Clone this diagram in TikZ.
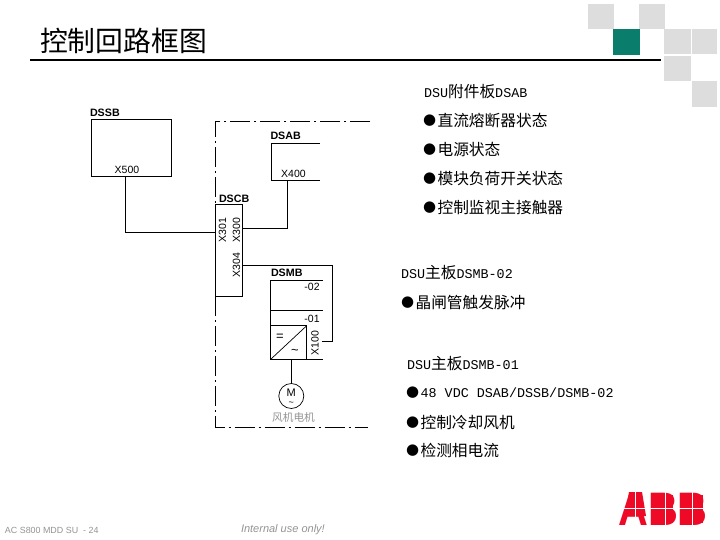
\documentclass[tikz,border=0pt]{standalone}
\usepackage{fontspec}
\setmainfont{Liberation Sans}
\newfontfamily\cjk{Noto Sans CJK SC}
\newfontfamily\lat{Liberation Mono}
\newfontfamily\dejavu{DejaVu Sans}
\usetikzlibrary{positioning,calc}
\definecolor{tilegray}{HTML}{DDDDDD}
\definecolor{tilegreen}{HTML}{0B7D6C}
\definecolor{abbred}{HTML}{EE0A27}
\newcommand{\bul}[1][1.6pt]{\raisebox{#1}{\dejavu\fontsize{15}{15}\selectfont ●}\hspace{1.5pt}}
\newcommand{\mn}[1]{{\lat\fontsize{13.4}{16}\selectfont #1}}

\begin{document}
\begin{tikzpicture}[
    x=1pt, y=-1pt,
    every node/.style={inner sep=0pt, outer sep=0pt},
    tile/.style={fill=tilegray},
    wire/.style={line width=0.7pt, black},
    frameline/.style={line width=0.7pt, black, dash pattern=on 20pt off 4pt on 2pt off 4pt},
    board/.style={font=\fontsize{10.7}{12}\selectfont\bfseries, anchor=west},
    conn/.style={font=\fontsize{10.5}{12}\selectfont},
    body/.style={font=\cjk\fontsize{15.7}{18}\selectfont, anchor=west},
    head/.style={font=\cjk\fontsize{15.7}{18}\selectfont, anchor=west},
    foot/.style={font=\fontsize{8.9}{12}\selectfont, text=gray!85, anchor=west},
    slit/.style={white, line width=1pt}
]
    \useasboundingbox (0,0) rectangle (720,540);

    % Kopf
    \node[font=\cjk\fontsize{27.8}{30}\selectfont, anchor=west] (title) at (40,41) {控制回路框图};
    \coordinate (ruleL) at (30,60);
    \coordinate (ruleR) at (661,60);
    \draw[line width=1.6pt] (ruleL) -- (ruleR);

    % Kacheln
    \fill[tile] (588,4) rectangle (613.7,29.3);
    \fill[tile] (639,4) rectangle (664.7,29.3);
    \fill[tilegreen] (613,29) rectangle (640,55);
    \fill[tile] (664.3,29) rectangle (690.7,54.3);
    \fill[tile] (692,29) rectangle (716.7,54.3);
    \fill[tile] (664.3,56) rectangle (690.7,80.7);
    \fill[tile] (692,81) rectangle (716.7,106.7);

    % Rahmen
    \coordinate (frameTR) at (370,121.7);
    \coordinate (frameBR) at (368,427);
    \draw[frameline] (frameTR) -- (215.7,121.7) -- (215.7,204.3);
    \draw[frameline] (215.7,296) -- (215.7,427) -- (frameBR);

    % Platinen
    \node[draw, wire, minimum width=80pt, minimum height=57pt] (dssb) at (131.3,147.8) {};
    \node[board] (dssbl) at (90,112.5) {DSSB};
    \node[conn] (x500) at (127,170) {X500};

    \node[board] (dsabl) at (270.5,136) {DSAB};
    \node[conn] (x400) at (293.5,174) {X400};
    \coordinate (dsabA) at (320,143.3);
    \coordinate (dsabB) at (320,180.3);
    \draw[wire] (dsabA) -- (271.3,143.3) -- (271.3,180.3) -- (dsabB);

    \node[draw, wire, minimum width=27pt, minimum height=91.7pt] (dscb) at (229.2,250.15) {};
    \node[board] (dscbl) at (219,199) {DSCB};
    \node[conn, rotate=90] (x301) at (222.5,230) {X301};
    \node[conn, rotate=90] (x300) at (236.5,230) {X300};
    \node[conn, rotate=90] (x304) at (236.5,265) {X304};

    \node[board] (dsmbl) at (271,273) {DSMB};
    \node[conn] (m02) at (312,287) {-02};
    \node[conn] (m01) at (312,319) {-01};
    \node[conn, rotate=90] (x100) at (315,343) {X100};
    \coordinate (dsmbA) at (323,280.7);
    \coordinate (dsmbB) at (323,310.3);
    \coordinate (dsmbC) at (323,359.3);
    \draw[wire] (dsmbA) -- (270.7,280.7) -- (270.7,359.3) -- (dsmbC);
    \draw[wire] (270.7,310.3) -- (dsmbB);

    % Umrichter
    \node[draw, wire, minimum width=36pt, minimum height=33.6pt] (conv) at (288.7,342.5) {};
    \draw[wire] (conv.south west) -- (conv.north east);
    \node[conn, font=\fontsize{13}{13}\selectfont] (eq) at (280,337.5) {=};
    \node[conn, font=\fontsize{13}{13}\selectfont] (ac) at (295,352) {\textasciitilde};

    % Motor
    \node[draw, wire, circle, minimum size=25pt] (motor) at (291.3,396) {};
    \node[conn, font=\fontsize{11}{11}\selectfont] (mm) at (291.3,393) {M};
    \node[conn, font=\fontsize{9}{9}\selectfont] (mt) at (291.3,403.5) {\textasciitilde};
    \node[font=\cjk\fontsize{10.7}{12}\selectfont, text=gray!85] (fan) at (293.5,417) {风机电机};

    % Verbindungen
    \coordinate (p500) at (125.3,176.3);
    \coordinate (p301) at (215.7,232.3);
    \coordinate (p400) at (287.7,180.3);
    \coordinate (p300) at (242.7,228);
    \coordinate (p304) at (242.7,265);
    \coordinate (p100) at (322,341);
    \draw[wire] (p500) |- (p301);
    \draw[wire] (p400) |- (p300);
    \draw[wire] (p304) -- (332.7,265) -- (332.7,341) -- (p100);
    \draw[wire] (conv.south -| motor.north) -- (motor.north);

    % Text rechts
    \node[head] (h1) at (424,92) {\mn{DSU}附件板\mn{DSAB}};
    \node[body] (a1) at (423,120.5) {\bul 直流熔断器状态};
    \node[body] (a2) at (423,149.5) {\bul 电源状态};
    \node[body] (a3) at (423,178.5) {\bul 模块负荷开关状态};
    \node[body] (a4) at (423,207.5) {\bul 控制监视主接触器};

    \node[head] (h2) at (401,273) {\mn{DSU}主板\mn{DSMB-02}};
    \node[body] (b1) at (401,302.5) {\bul 晶闸管触发脉冲};

    \node[head] (h3) at (407,364) {\mn{DSU}主板\mn{DSMB-01}};
    \node[body] (c1) at (406,393) {\bul[0.4pt]\mn{48 VDC DSAB/DSSB/DSMB-02}};
    \node[body] (c2) at (406,422.5) {\bul 控制冷却风机};
    \node[body] (c3) at (406,450.5) {\bul 检测相电流};

    % Fuss
    \node[foot] (f1) at (5,530) {AC S800 MDD SU \ - 24};
    \node[foot, font=\fontsize{11}{12}\selectfont\itshape] (f2) at (241,530) {Internal use only!};

    % Logo
    \node[font=\fontsize{47}{50}\selectfont\bfseries, text=abbred, xscale=0.88] (logo) at (663,509) {ABB};
    \fill[abbred] (629,492) -- (642,492) -- (646,516) -- (625,516) -- cycle;
    \fill[abbred] (655,495) rectangle (673,523);
    \fill[abbred] (685,495) rectangle (703,523);
    \draw[slit] (616,508) -- (707,508);
    \draw[slit] (635,490) -- (635,528);
    \draw[slit] (665,490) -- (665,528);
    \draw[slit] (692,490) -- (692,528);
\end{tikzpicture}
\end{document}
